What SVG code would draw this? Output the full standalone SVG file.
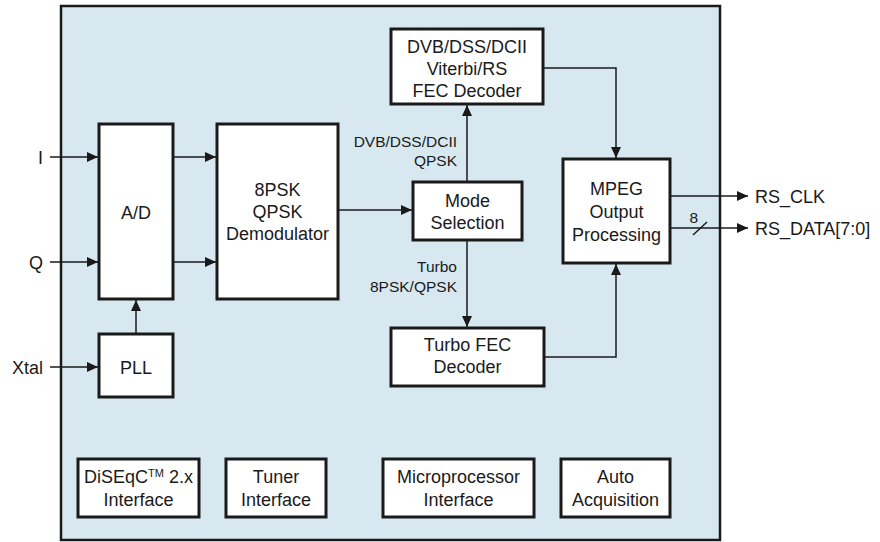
<svg xmlns="http://www.w3.org/2000/svg" width="880" height="542" viewBox="0 0 880 542">
<defs>
<marker id="ah" markerUnits="userSpaceOnUse" markerWidth="12" markerHeight="12" viewBox="0 0 12 12" refX="11" refY="6" orient="auto">
<path d="M0,1 L11,6 L0,11 Z" fill="#1a1a1a"/>
</marker>
<style>
.blk{fill:#ffffff;stroke:#1a1a1a;stroke-width:3}
.t{font-family:"Liberation Sans",Arial,sans-serif;font-size:18px;fill:#1a1a1a;text-anchor:middle}
.lbl{font-family:"Liberation Sans",Arial,sans-serif;font-size:15.5px;fill:#1a1a1a;text-anchor:end}
.io{font-family:"Liberation Sans",Arial,sans-serif;font-size:18px;fill:#1a1a1a}
.c{fill:none;stroke:#1a1a1a;stroke-width:1.5}
.c path.a{marker-end:url(#ah)}
</style>
</defs>
<rect width="880" height="542" fill="#ffffff"/>
<g id="chip">
<rect x="61" y="6" width="659" height="534" fill="#d8e8f1" stroke="#1a1a1a" stroke-width="2.5"/>
</g>
<g id="ad"><rect class="blk" x="99" y="124" width="74" height="175"/><text class="t" x="136" y="218.5">A/D</text></g>
<g id="demod"><rect class="blk" x="217" y="124" width="121" height="175"/>
<text class="t" x="277.5" y="196">8PSK</text><text class="t" x="277.5" y="218">QPSK</text><text class="t" x="277.5" y="240">Demodulator</text></g>
<g id="pll"><rect class="blk" x="99" y="334" width="74" height="63"/><text class="t" x="136" y="373.5">PLL</text></g>
<g id="dvbfec"><rect class="blk" x="391" y="29" width="152" height="75"/>
<text class="t" x="467" y="53">DVB/DSS/DCII</text><text class="t" x="467" y="75">Viterbi/RS</text><text class="t" x="467" y="97">FEC Decoder</text></g>
<g id="mode"><rect class="blk" x="413" y="182" width="109" height="58"/>
<text class="t" x="467.5" y="207">Mode</text><text class="t" x="467.5" y="229">Selection</text></g>
<g id="turbo"><rect class="blk" x="391" y="328" width="153" height="58"/>
<text class="t" x="467.5" y="351">Turbo FEC</text><text class="t" x="467.5" y="373">Decoder</text></g>
<g id="mpeg"><rect class="blk" x="563" y="159" width="107" height="104"/>
<text class="t" x="616.5" y="195">MPEG</text><text class="t" x="616.5" y="218">Output</text><text class="t" x="616.5" y="241">Processing</text></g>
<g id="diseqc"><rect class="blk" x="78" y="459" width="121" height="58"/>
<text class="t" x="138.5" y="483">DiSEqC<tspan font-size="11" dy="-6">TM</tspan><tspan dy="6"> 2.x</tspan></text><text class="t" x="138.5" y="506">Interface</text></g>
<g id="tuner"><rect class="blk" x="226" y="459" width="100" height="58"/>
<text class="t" x="276" y="483">Tuner</text><text class="t" x="276" y="506">Interface</text></g>
<g id="micro"><rect class="blk" x="383" y="459" width="151" height="58"/>
<text class="t" x="458.5" y="483">Microprocessor</text><text class="t" x="458.5" y="506">Interface</text></g>
<g id="auto"><rect class="blk" x="561" y="459" width="109" height="58"/>
<text class="t" x="615.5" y="483">Auto</text><text class="t" x="615.5" y="506">Acquisition</text></g>
<g id="connectors" class="c">
<path class="a" d="M50,157 H98"/>
<path class="a" d="M50,262 H98"/>
<path class="a" d="M50,367 H98"/>
<path class="a" d="M173,157 H216"/>
<path class="a" d="M173,262 H216"/>
<path class="a" d="M136,334 V300"/>
<path class="a" d="M338,210 H412"/>
<path class="a" d="M467,182 V105"/>
<path class="a" d="M467,240 V327"/>
<path class="a" d="M543,68 H616 V158"/>
<path class="a" d="M544,357 H616 V264"/>
<path class="a" d="M670,196 H748"/>
<path class="a" d="M670,228 H748"/>
<path d="M693,235 L707,222"/>
</g>
<g id="labels">
<text class="io" x="43" y="163.5" text-anchor="end">I</text>
<text class="io" x="43" y="268.5" text-anchor="end">Q</text>
<text class="io" x="43" y="373.5" text-anchor="end">Xtal</text>
<text class="io" x="755" y="202.5">RS_CLK</text>
<text class="io" x="755" y="234.5">RS_DATA[7:0]</text>
<text class="lbl" x="698" y="223" font-size="14" text-anchor="middle">8</text>
<text class="lbl" x="457" y="147">DVB/DSS/DCII</text>
<text class="lbl" x="457" y="166">QPSK</text>
<text class="lbl" x="457" y="272">Turbo</text>
<text class="lbl" x="457" y="292">8PSK/QPSK</text>
</g>
</svg>
